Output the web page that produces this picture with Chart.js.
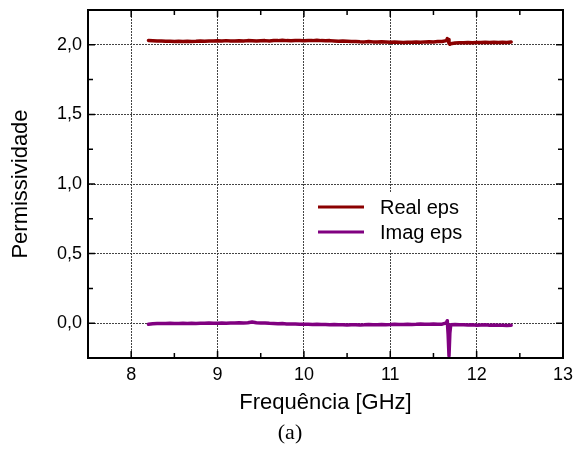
<!DOCTYPE html>
<html><head><meta charset="utf-8">
<script src="https://cdn.jsdelivr.net/npm/chart.js@4.4.0/dist/chart.umd.min.js"></script>
<style>html,body{margin:0;padding:0;background:#fff}</style>
</head><body>
<canvas id="c" width="575" height="455"></canvas>
<script>
const freq = [8.20,8.25,8.30,8.35,8.40,8.45,8.50,8.55,8.60,8.65,8.70,8.75,8.80,8.85,8.90,8.95,
  9.00,9.05,9.10,9.15,9.20,9.25,9.30,9.35,9.40,9.45,9.50,9.55,9.60,9.65,9.70,9.75,9.80,9.85,9.90,9.95,
  10.00,10.05,10.10,10.15,10.20,10.25,10.30,10.35,10.40,10.45,10.50,10.55,10.60,10.65,10.70,10.75,10.80,10.85,10.90,10.95,
  11.00,11.05,11.10,11.15,11.20,11.25,11.30,11.35,11.40,11.45,11.50,11.55,11.60,11.65,11.66,11.67,11.68,11.69,
  11.70,11.75,11.80,11.85,11.90,11.95,12.00,12.05,12.10,12.15,12.20,12.25,12.30,12.35,12.40];
const realEps = [2.031,2.029,2.027,2.028,2.025,2.026,2.023,2.025,2.024,2.026,2.024,2.025,2.027,2.025,2.028,2.027,
  2.029,2.028,2.030,2.028,2.027,2.029,2.028,2.030,2.029,2.027,2.029,2.030,2.028,2.031,2.030,2.032,2.030,2.029,2.031,2.030,
  2.029,2.031,2.030,2.032,2.030,2.029,2.030,2.028,2.026,2.027,2.025,2.023,2.024,2.022,2.021,2.023,2.021,2.020,2.022,2.020,
  2.018,2.020,2.019,2.017,2.019,2.018,2.020,2.019,2.021,2.022,2.020,2.023,2.024,2.030,2.044,2.038,2.010,2.004,
  2.008,2.013,2.015,2.014,2.016,2.015,2.017,2.016,2.018,2.017,2.019,2.016,2.018,2.017,2.020];
const imagEps = [-0.008,-0.004,-0.003,-0.002,-0.003,-0.001,-0.002,-0.003,-0.001,-0.002,0.000,-0.002,-0.001,0.000,0.001,-0.001,
  0.000,0.001,0.000,0.002,0.001,0.003,0.002,0.004,0.008,0.003,0.002,0.001,-0.001,-0.002,-0.004,-0.003,-0.005,-0.006,-0.005,-0.007,
  -0.008,-0.007,-0.009,-0.008,-0.010,-0.009,-0.011,-0.010,-0.012,-0.011,-0.013,-0.012,-0.011,-0.013,-0.012,-0.010,-0.012,-0.011,-0.009,-0.011,
  -0.010,-0.008,-0.010,-0.009,-0.007,-0.009,-0.008,-0.006,-0.008,-0.007,-0.006,-0.008,-0.007,0.002,0.018,-0.080,-0.235,-0.070,
  -0.012,-0.010,-0.012,-0.011,-0.013,-0.012,-0.014,-0.013,-0.012,-0.014,-0.013,-0.015,-0.014,-0.016,-0.015];
const seriesNames = ['Real eps', 'Imag eps'];
const seriesColors = ['#8b0000', '#800080'];
const xTicks = [8, 9, 10, 11, 12, 13];
const xMinorTicks = [8.5, 9.5, 10.5, 11.5, 12.5];
const yTicks = [0, 0.5, 1.0, 1.5, 2.0];
const yTickLabels = ['0,0', '0,5', '1,0', '1,5', '2,0'];
const yMinorTicks = [0.25, 0.75, 1.25, 1.75];
const xTitle = 'Frequência [GHz]';
const yTitle = 'Permissividade';
const caption = '(a)';

const SANS = '"Liberation Sans", Arial, sans-serif';

const frameTicks = {
  id: 'frameTicks',
  afterDraw(chart) {
    const {ctx, chartArea: {left, right, top, bottom}, scales: {x, y}} = chart;
    ctx.save();
    ctx.strokeStyle = '#000';
    ctx.lineWidth = 1.5;
    ctx.beginPath();
    const xt = (vals, len) => vals.forEach(v => {
      const p = x.getPixelForValue(v);
      ctx.moveTo(p, bottom); ctx.lineTo(p, bottom - len);
      ctx.moveTo(p, top); ctx.lineTo(p, top + len);
    });
    const yt = (vals, len) => vals.forEach(v => {
      const p = y.getPixelForValue(v);
      ctx.moveTo(left, p); ctx.lineTo(left + len, p);
      ctx.moveTo(right, p); ctx.lineTo(right - len, p);
    });
    xt(xTicks, 7); xt(xMinorTicks, 5);
    yt(yTicks, 7); yt(yMinorTicks, 5);
    ctx.stroke();
    ctx.lineWidth = 2;
    ctx.strokeRect(left, top, right - left, bottom - top);
    ctx.restore();
  }
};

const legendBox = {
  id: 'legendBox',
  afterDatasetsDraw(chart) {
    const {ctx, chartArea: {left, top}} = chart;
    ctx.save();
    ctx.fillStyle = '#fff';
    ctx.fillRect(left + 220, top + 182, 166, 57);
    ctx.font = '20px ' + SANS;
    ctx.textBaseline = 'middle';
    ctx.textAlign = 'left';
    seriesNames.forEach((n, i) => {
      const yy = top + 197 + i * 25;
      ctx.strokeStyle = seriesColors[i];
      ctx.lineWidth = 3;
      ctx.beginPath();
      ctx.moveTo(left + 230, yy); ctx.lineTo(left + 276, yy);
      ctx.stroke();
      ctx.fillStyle = '#000';
      ctx.fillText(n, left + 292, yy + 1);
    });
    ctx.restore();
  }
};

Chart.defaults.color = '#000';
Chart.defaults.font.family = SANS;

new Chart(document.getElementById('c'), {
  type: 'scatter',
  data: {
    datasets: [realEps, imagEps].map((vals, k) => ({
      label: seriesNames[k],
      data: freq.map((f, i) => ({x: f, y: vals[i]})),
      showLine: true,
      borderColor: seriesColors[k],
      backgroundColor: seriesColors[k],
      borderWidth: 3.5,
      borderJoinStyle: 'round',
      borderCapStyle: 'round',
      pointRadius: 0,
      tension: 0
    }))
  },
  options: {
    responsive: false,
    animation: false,
    layout: {padding: {left: 5, right: 0, top: 10, bottom: 0}},
    plugins: {
      legend: {display: false},
      tooltip: {enabled: false},
      subtitle: {
        display: true, text: caption, position: 'bottom',
        font: {family: '"Liberation Serif", "Times New Roman", serif', size: 22, weight: 'normal'},
        padding: {top: 0, bottom: 9}, color: '#000'
      }
    },
    scales: {
      x: {
        type: 'linear', min: 7.5, max: 13,
        afterBuildTicks: s => { s.ticks = xTicks.map(v => ({value: v})); },
        afterFit: s => { s.height = 61.6; s.paddingLeft = 0; s.paddingRight = 12; },
        ticks: {font: {size: 18}, padding: 6, callback: v => String(v)},
        grid: {color: '#444', lineWidth: 1, drawTicks: false},
        border: {display: false, dash: [2, 1]},
        title: {display: true, text: xTitle, font: {size: 22}, padding: {top: 0, bottom: 3.4}}
      },
      y: {
        type: 'linear', min: -0.25, max: 2.25,
        afterBuildTicks: s => { s.ticks = yTicks.map(v => ({value: v})); },
        afterFit: s => { s.width = 83; s.paddingTop = 0; s.paddingBottom = 0; },
        ticks: {font: {size: 18}, padding: 6, callback: (v, i) => yTickLabels[i]},
        grid: {color: '#444', lineWidth: 1, drawTicks: false},
        border: {display: false, dash: [2, 1]},
        title: {display: true, text: yTitle, font: {size: 22}, padding: {top: 3, bottom: 0}}
      }
    }
  },
  plugins: [legendBox, frameTicks]
});
</script>
</body></html>
